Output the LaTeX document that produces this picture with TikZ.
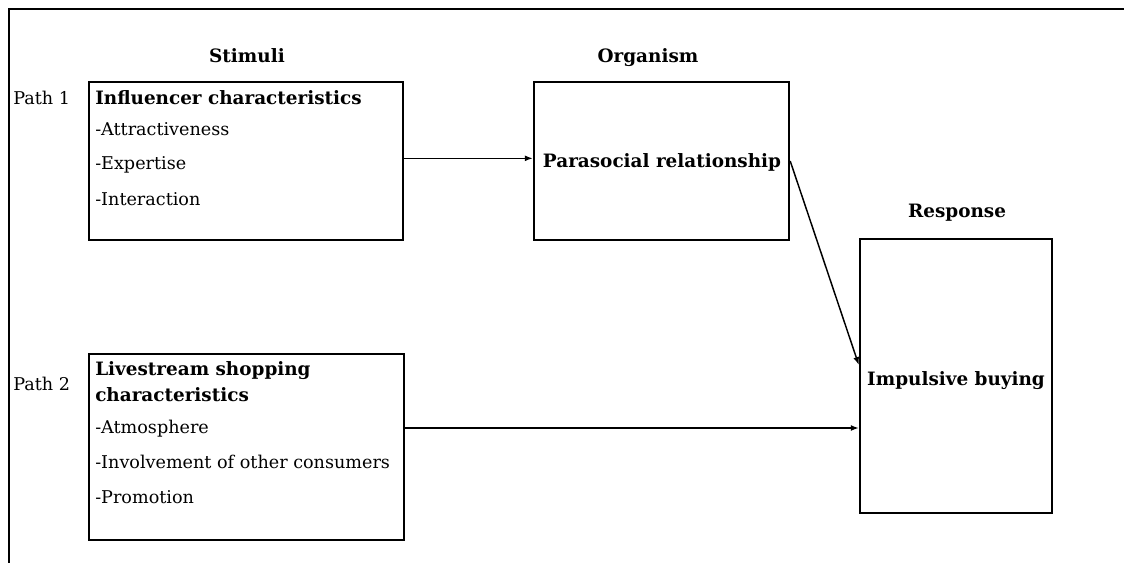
\documentclass[tikz,border=0pt]{standalone}
\usepackage{fontspec}
\setmainfont{DejaVu Serif}
\usetikzlibrary{arrows.meta,calc}
\begin{document}
\begin{tikzpicture}[x=0.75pt,y=-0.75pt,
  box/.style={draw,line width=1.8pt,inner sep=0pt},
  lbl/.style={font=\fontsize{13.2}{15}\selectfont,inner sep=0pt,anchor=base west},
  blbl/.style={font=\fontsize{13.8}{15}\selectfont\bfseries,inner sep=0pt,anchor=base west},
  hdr/.style={font=\fontsize{13.8}{15}\selectfont\bfseries,inner sep=0pt,anchor=base},
  conn/.style={line width=1.1pt,-{Latex[length=6pt,width=4.5pt]}}]
\useasboundingbox (0,0) rectangle (1124,563);
\draw[line width=1.6pt] (9,563) -- (9,9) -- (1124,9);
% boxes
\node[box,minimum width=314*0.75pt,minimum height=158*0.75pt] (b1) at (246,161) {};
\node[box,minimum width=255*0.75pt,minimum height=158*0.75pt] (b2) at (661.5,161) {};
\node[box,minimum width=192*0.75pt,minimum height=274*0.75pt] (b3) at (956,376) {};
\node[box,minimum width=315*0.75pt,minimum height=186*0.75pt] (b4) at (246.5,447) {};
% headers
\node[hdr] (hs) at (247,63) {Stimuli};
\node[hdr] (ho) at (648,63) {Organism};
\node[hdr] (hr) at (957,218) {Response};
% path labels
\node[lbl] (p1) at (13,105) {Path 1};
\node[lbl] (p2) at (13,390) {Path 2};
% box 1 text
\node[blbl] (t1) at (95,105) {Influencer characteristics};
\node[lbl] (t2) at (95,136) {-Attractiveness};
\node[lbl] (t3) at (95,170) {-Expertise};
\node[lbl] (t4) at (95,205) {-Interaction};
% box 2 text
\node[hdr] (t5) at (662,168) {Parasocial relationship};
% box 3 text
\node[hdr] (t6) at (956,385) {Impulsive buying};
% box 4 text
\node[blbl] (s1) at (95,375) {Livestream shopping};
\node[blbl] (s2) at (95,401) {characteristics};
\node[lbl] (s3) at (95,433) {-Atmosphere};
\node[lbl] (s4) at (95,468) {-Involvement of other consumers};
\node[lbl] (s5) at (95,503) {-Promotion};
% connectors
\draw[conn] ([yshift=2pt]b1.east) -- ([yshift=2pt]b2.west);
\draw[conn] (b2.east) -- ([yshift=8.25pt]b3.west);
\draw[conn] ([yshift=14.25pt]b4.east) -- ([yshift=14.25pt]b4.east -| b3.west);
\end{tikzpicture}
\end{document}
